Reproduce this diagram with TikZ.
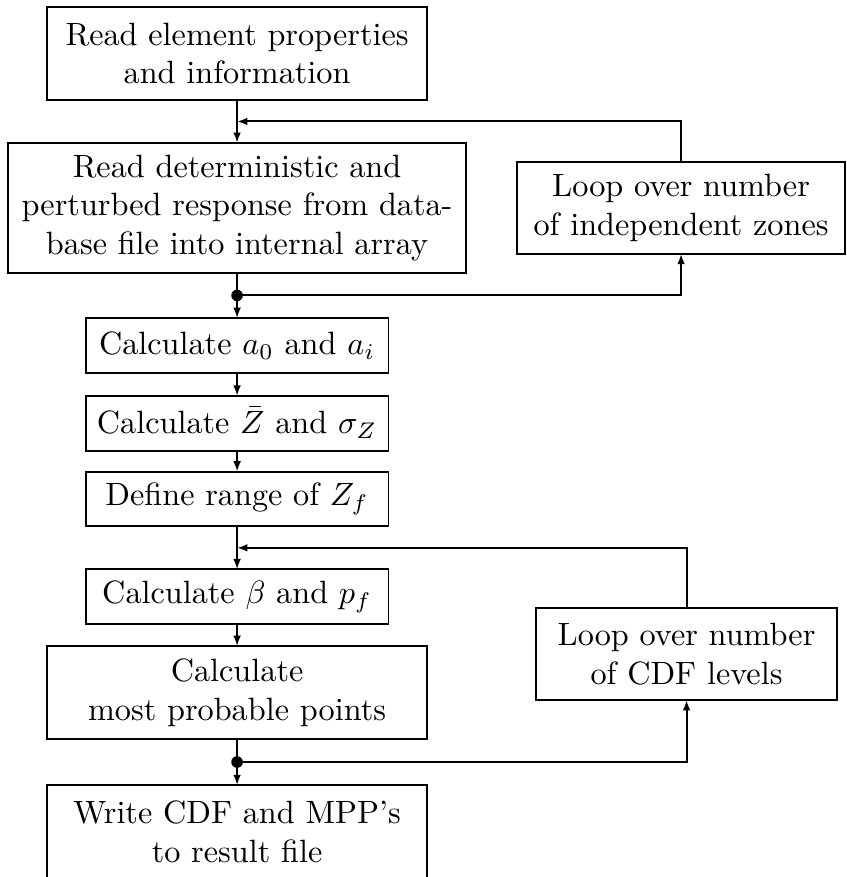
\documentclass[tikz,border=0pt]{standalone}
\usepackage{amsmath}
\usetikzlibrary{positioning,arrows.meta,calc}

\begin{document}
\begin{tikzpicture}[
    line width=0.6pt,
    node distance=13.3pt,
    block/.style={rectangle, draw, align=center, inner sep=3pt, outer sep=0pt},
    wide/.style={block, minimum width=117.8pt, minimum height=28.8pt},
    short/.style={block, minimum width=93.9pt, minimum height=17pt},
    loopbox/.style={block, minimum height=28.5pt},
    flow/.style={-{Latex[length=3.2pt,width=2.4pt]}}
]
\useasboundingbox (0,0) rectangle (262.3pt,-271.9pt);

\node[wide, anchor=north] (read) at (73.5pt,-2.2pt) {Read element properties\\and information};
\node[block, below=13.3pt of read, minimum width=142pt, minimum height=40.3pt] (resp) {Read deterministic and\\perturbed response from data-\\base file into internal array};
\node[short, below=14pt of resp] (coef) {Calculate $a_0$ and $a_i$};
\node[short, below=7.1pt of coef] (mean) {Calculate $\bar{Z}$ and $\sigma_Z$};
\node[short, below=6.5pt of mean] (range) {Define range of $Z_f$};
\node[short, below=13.3pt of range] (beta) {Calculate $\beta$ and $p_f$};
\node[wide, below=6.8pt of beta] (mpp) {Calculate\\most probable points};
\node[wide, below=14.3pt of mpp] (out) {Write CDF and MPP's\\to result file};

\node[loopbox, right=15.8pt of resp, minimum width=101.7pt] (zones) {Loop over number\\of independent zones};
\node[loopbox, minimum width=93.3pt] (levels) at ($(zones |- mpp)+(1.7pt,11.9pt)$) {Loop over number\\of CDF levels};

\coordinate (j1) at ($(read.south)!0.5!(resp.north)$);
\coordinate (j2) at ($(resp.south)!0.5!(coef.north)$);
\coordinate (j3) at ($(range.south)!0.5!(beta.north)$);
\coordinate (j4) at ($(mpp.south)!0.5!(out.north)$);

\draw[flow] (read) -- (resp);
\draw[flow] (resp) -- (coef);
\draw[flow] (coef) -- (mean);
\draw[flow] (mean) -- (range);
\draw[flow] (range) -- (beta);
\draw[flow] (beta) -- (mpp);
\draw[flow] (mpp) -- (out);

% loop back-edges
\draw[flow] (zones.north) |- (j1);
\draw[flow] (j2) -| (zones.south);
\draw[flow] (levels.north) |- (j3);
\draw[flow] (j4) -| (levels.south);
\fill (j2) circle (1.8pt);
\fill (j4) circle (1.8pt);
\end{tikzpicture}
\end{document}
